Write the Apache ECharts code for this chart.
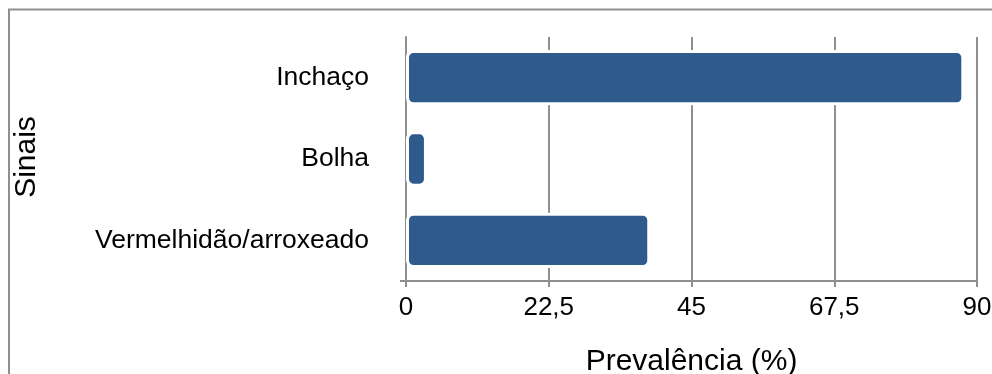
<!DOCTYPE html>
<html>
<head>
<meta charset="utf-8">
<script src="https://cdn.jsdelivr.net/npm/echarts@6/dist/echarts.min.js"></script>
<style>
  html, body { margin: 0; padding: 0; background: #fff; overflow: hidden; }
  #chart { width: 992px; height: 374px; }
</style>
</head>
<body>
<div id="chart"></div>
<script>
// Categories listed bottom-to-top (category axis index 0 sits at the bottom)
const categories = ['Vermelhidão/arroxeado', 'Bolha', 'Inchaço'];
const prevalence = [38.5, 3.3, 88];
const xTicks = [0, 22.5, 45, 67.5, 90];

const FONT = '"Liberation Sans", Arial, sans-serif';
const GRAY = '#8f8f8f';

const chart = echarts.init(document.getElementById('chart'), null, { renderer: 'canvas' });

const GRID = { left: 406, right: 15, top: 37, bottom: 93 };

chart.setOption({
  animation: false,
  backgroundColor: '#fff',
  graphic: [
    {
      type: 'rect',
      shape: { x: 9, y: 9.5, width: 1000, height: 400 },
      style: { fill: 'none', stroke: GRAY, lineWidth: 2 },
      silent: true
    },
    {
      // small outward tick where the two axes meet
      type: 'line',
      shape: { x1: GRID.left - 6, y1: 374 - GRID.bottom, x2: GRID.left, y2: 374 - GRID.bottom },
      style: { stroke: GRAY, lineWidth: 2 },
      silent: true
    },
    {
      type: 'text',
      x: 27, y: 157,
      rotation: Math.PI / 2,
      style: {
        text: 'Sinais',
        font: '30px ' + FONT,
        fill: '#000',
        align: 'center',
        verticalAlign: 'middle'
      }
    }
  ],
  grid: Object.assign({ containLabel: false, outerBoundsMode: 'none' }, GRID),
  xAxis: {
    type: 'value',
    min: xTicks[0],
    max: xTicks[xTicks.length - 1],
    interval: xTicks[1] - xTicks[0],
    name: 'Prevalência (%)',
    nameLocation: 'middle',
    nameGap: 66,
    nameTextStyle: { fontFamily: FONT, fontSize: 30, color: '#000' },
    axisLine: { show: true, lineStyle: { color: GRAY, width: 2 } },
    axisTick: { show: true, length: 6, lineStyle: { color: GRAY, width: 2 } },
    axisLabel: {
      fontFamily: FONT, fontSize: 26, color: '#000', margin: 14,
      formatter: v => String(v).replace('.', ',')
    },
    splitLine: { show: true, lineStyle: { color: GRAY, width: 2 } }
  },
  yAxis: {
    type: 'category',
    data: categories,
    axisLine: { show: true, lineStyle: { color: GRAY, width: 2 } },
    axisTick: { show: false },
    axisLabel: { fontFamily: FONT, fontSize: 26.5, color: '#000', margin: 37 },
    splitLine: { show: false }
  },
  series: [{
    type: 'bar',
    data: prevalence,
    barWidth: '68%',
    itemStyle: {
      color: '#2e5a8c',
      borderColor: '#ffffff',
      borderWidth: 3,
      borderRadius: 6
    }
  }]
});
</script>
</body>
</html>
